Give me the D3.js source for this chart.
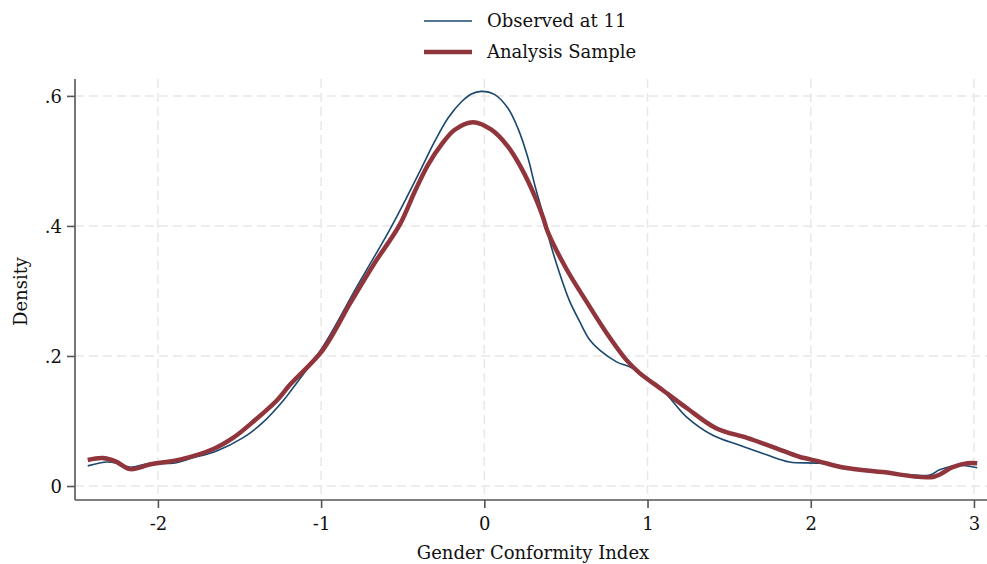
<!DOCTYPE html>
<html>
<head>
<meta charset="utf-8">
<script src="https://cdn.jsdelivr.net/npm/d3@7"></script>
<style>
  html, body { margin: 0; padding: 0; background: #ffffff; }
  svg { display: block; }
  text { font-family: "DejaVu Serif", serif; fill: #111; }
</style>
</head>
<body>
<svg id="chart" width="987" height="564"></svg>
<script>
// ---- Data ----
const seriesNames = ["Observed at 11", "Analysis Sample"];
const xTicks = [-2, -1, 0, 1, 2, 3];
const xTickLabels = ["-2", "-1", "0", "1", "2", "3"];
const yTicks = [0, 0.2, 0.4, 0.6];
const yTickLabels = ["0", ".2", ".4", ".6"];

const observedX = [-2.43, -2.31, -2.25, -2.17, -2.05, -1.91, -1.79, -1.64, -1.48, -1.36, -1.23, -1.19,
  -0.99, -0.78, -0.58, -0.467, -0.385, -0.304, -0.222, -0.14, -0.079, -0.02, 0.064, 0.145, 0.206, 0.268,
  0.309, 0.36, 0.39, 0.46, 0.52, 0.58, 0.645, 0.707, 0.81, 0.91, 1.09, 1.24, 1.40, 1.56, 1.73, 1.87,
  2.05, 2.19, 2.44, 2.73, 2.79, 2.91, 3.02];
const observedY = [0.031, 0.037, 0.035, 0.029, 0.035, 0.035, 0.043, 0.054, 0.074, 0.097, 0.132, 0.145,
  0.214, 0.307, 0.394, 0.448, 0.489, 0.530, 0.566, 0.591, 0.603, 0.607, 0.602, 0.581, 0.550, 0.504,
  0.463, 0.417, 0.386, 0.328, 0.286, 0.255, 0.225, 0.209, 0.191, 0.181, 0.148, 0.106, 0.078, 0.063, 0.048, 0.037,
  0.035, 0.029, 0.0215, 0.017, 0.025, 0.032, 0.028];

const sampleX = [-2.43, -2.34, -2.26, -2.17, -2.05, -1.86, -1.66, -1.54, -1.43, -1.27, -1.19, -0.99,
  -0.82, -0.68, -0.518, -0.426, -0.345, -0.263, -0.181, -0.069, 0.043, 0.145, 0.227, 0.309, 0.36, 0.39,
  0.505, 0.63, 0.75, 0.87, 0.95, 1.09, 1.24, 1.42, 1.61, 1.79, 1.93, 2.05, 2.19, 2.44, 2.75, 2.87, 2.96, 3.02];
const sampleY = [0.040, 0.043, 0.038, 0.026, 0.033, 0.041, 0.057, 0.074, 0.096, 0.132, 0.156, 0.209,
  0.282, 0.340, 0.402, 0.453, 0.494, 0.525, 0.548, 0.5595, 0.548, 0.522, 0.489, 0.446, 0.413, 0.390,
  0.333, 0.282, 0.235, 0.194, 0.174, 0.148, 0.120, 0.089, 0.074, 0.058, 0.045, 0.038, 0.029, 0.0215, 0.014, 0.029, 0.035, 0.035];

// ---- Layout ----
const svg = d3.select("#chart");
const mLeft = 75, mRight = 987, mTop = 79, mBottom = 500;
const fontSize = "18px";

const x = d3.scaleLinear().domain([-2.508, 3.08]).range([mLeft, mRight]);
const y = d3.scaleLinear().domain([-0.0215, 0.626]).range([mBottom, mTop]);

const blue = "#1a476f", red = "#90353b";

// gridlines
const grid = svg.append("g");
grid.selectAll("line.gx").data(xTicks).enter().append("line")
  .attr("x1", d => x(d)).attr("x2", d => x(d))
  .attr("y1", mTop).attr("y2", mBottom)
  .attr("stroke", "#e8e8e8").attr("stroke-width", 1.5).attr("stroke-dasharray", "9,5");
grid.selectAll("line.gy").data(yTicks).enter().append("line")
  .attr("x1", mLeft).attr("x2", mRight)
  .attr("y1", d => y(d)).attr("y2", d => y(d))
  .attr("stroke", "#e8e8e8").attr("stroke-width", 1.5).attr("stroke-dasharray", "9,5");

// lines
const line = d3.line().x(d => x(d[0])).y(d => y(d[1])).curve(d3.curveCatmullRom.alpha(0.5));
const obs = observedX.map((v, i) => [v, observedY[i]]);
const smp = sampleX.map((v, i) => [v, sampleY[i]]);

svg.append("path").datum(obs).attr("d", line)
  .attr("fill", "none").attr("stroke", blue).attr("stroke-width", 1.6);
svg.append("path").datum(smp).attr("d", line)
  .attr("fill", "none").attr("stroke", red).attr("stroke-width", 4.5).attr("stroke-linejoin", "round");

// axes
const axisColor = "#555";
const xAxis = svg.append("g").attr("transform", `translate(0,${mBottom})`)
  .call(d3.axisBottom(x).tickValues(xTicks).tickSize(8).tickPadding(6).tickFormat((d, i) => xTickLabels[i]));
const yAxis = svg.append("g").attr("transform", `translate(${mLeft},0)`)
  .call(d3.axisLeft(y).tickValues(yTicks).tickSize(8).tickPadding(5).tickFormat((d, i) => yTickLabels[i]));

[xAxis, yAxis].forEach(g => {
  g.select(".domain").attr("stroke", axisColor).attr("stroke-width", 1.6);
  g.selectAll(".tick line").attr("stroke", axisColor).attr("stroke-width", 1.6);
  g.selectAll(".tick text").style("font-family", "'DejaVu Serif', serif").style("font-size", fontSize).attr("fill", "#111");
});
xAxis.select(".domain").attr("d", `M${mLeft},0H${mRight}`);
yAxis.select(".domain").attr("d", `M0,${mBottom}V${mTop}`);
xAxis.selectAll(".tick text").attr("dy", "0.9em");
yAxis.selectAll(".tick text").attr("dy", "0.35em");

// axis titles
svg.append("text").attr("x", (mLeft + mRight) / 2 + 2).attr("y", 559)
  .attr("text-anchor", "middle").style("font-size", fontSize).text("Gender Conformity Index");
svg.append("text").attr("transform", `translate(27,${(mTop + mBottom) / 2 + 2}) rotate(-90)`)
  .attr("text-anchor", "middle").style("font-size", fontSize).text("Density");

// legend
const legend = svg.append("g");
const legItems = [{ name: seriesNames[0], color: blue, w: 1.6, yy: 21 },
                  { name: seriesNames[1], color: red, w: 4.5, yy: 52 }];
legItems.forEach(it => {
  legend.append("line").attr("x1", 424).attr("x2", 472).attr("y1", it.yy).attr("y2", it.yy)
    .attr("stroke", it.color).attr("stroke-width", it.w);
  legend.append("text").attr("x", 487).attr("y", it.yy).attr("dy", "0.35em")
    .style("font-size", fontSize).text(it.name);
});
</script>
</body>
</html>
